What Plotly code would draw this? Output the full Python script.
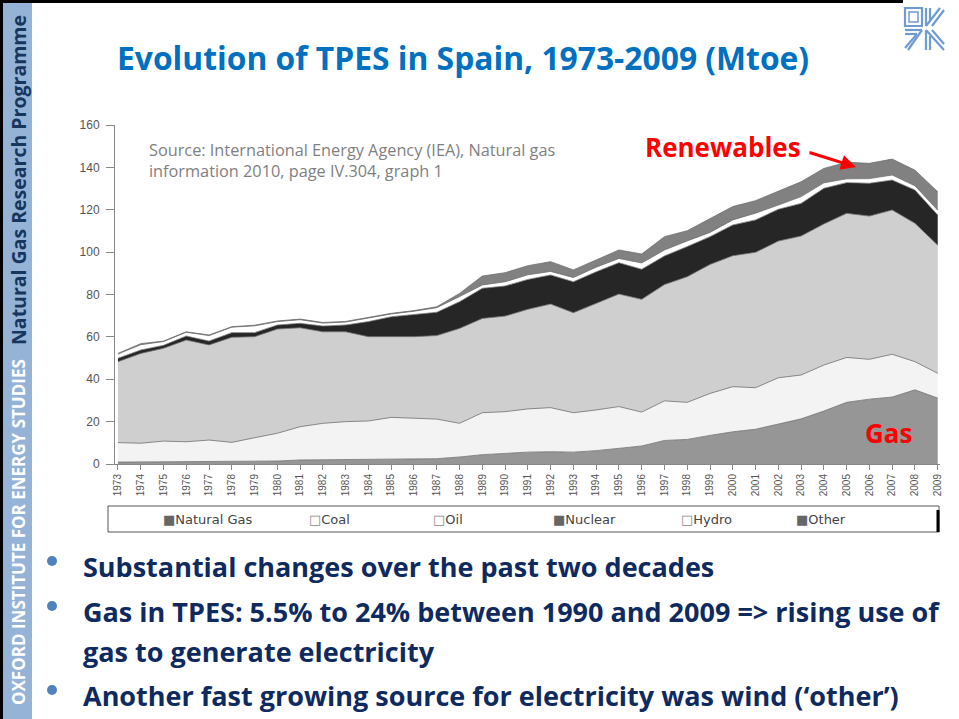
import plotly.graph_objects as go

years = list(range(1973, 2010))
year_labels = [str(y) for y in years]

natural_gas = [0.9, 1.0, 1.0, 1.0, 1.1, 1.1, 1.3, 1.4, 1.9, 2.0, 2.0, 1.9, 2.0, 2.3, 2.5, 3.3, 4.4, 5.0, 5.6, 5.8,
               5.6, 6.3, 7.5, 8.5, 11.1, 11.6, 13.5, 15.2, 16.4, 18.8, 21.3, 25.0, 29.1, 30.6, 31.6, 35.0, 31.1]
coal = [9.2, 8.8, 9.8, 9.5, 10.2, 9.1, 11.1, 13.1, 15.7, 17.2, 18.0, 18.4, 20.0, 19.4, 18.7, 15.9, 19.8, 19.7, 20.4,
        20.8, 18.6, 19.2, 19.6, 16.0, 18.7, 17.5, 19.8, 21.3, 19.6, 21.9, 20.7, 21.7, 21.2, 18.8, 20.2, 13.3, 11.7]
oil = [38.2, 42.4, 43.8, 48.0, 44.9, 49.6, 47.7, 49.2, 46.7, 43.2, 42.4, 39.8, 38.1, 38.4, 39.4, 44.8, 44.5, 45.1,
       47.0, 48.9, 47.2, 50.3, 53.1, 53.2, 54.9, 59.3, 60.9, 61.8, 63.9, 64.5, 65.6, 66.6, 68.0, 67.6, 68.1, 65.3, 60.5]
nuclear = [1.6, 1.6, 1.4, 1.9, 1.8, 2.2, 1.9, 1.9, 2.1, 2.7, 3.2, 7.1, 9.4, 10.5, 11.0, 12.6, 14.2, 14.2, 14.1, 13.7,
           14.6, 14.9, 14.8, 14.2, 13.5, 14.2, 13.1, 14.5, 15.3, 15.0, 15.4, 16.8, 14.5, 15.5, 14.1, 15.7, 14.2]
hydro = [2.0, 2.5, 1.8, 1.8, 2.6, 2.6, 3.2, 1.6, 1.7, 1.4, 1.4, 1.6, 1.3, 1.5, 2.2, 2.4, 1.6, 2.0, 2.2, 1.7,
         2.0, 2.2, 2.0, 3.0, 2.8, 2.7, 2.0, 2.4, 3.2, 2.0, 3.2, 2.6, 1.8, 2.2, 2.4, 2.0, 2.3]
other = [0.3, 0.5, 0.2, 0.2, 0.3, 0.2, 0.3, 0.3, 0.3, 0.3, 0.3, 0.3, 0.3, 0.3, 0.4, 1.5, 4.2, 4.3, 4.3, 4.6,
         3.6, 3.4, 4.0, 4.2, 6.3, 4.8, 6.7, 6.3, 5.9, 6.6, 7.0, 6.8, 7.8, 7.2, 7.5, 7.4, 8.7]

series = [
    ("Natural Gas", natural_gas, "#969696", "■"),
    ("Coal", coal, "#f3f3f3", "□"),
    ("Oil", oil, "#cfcfcf", "□"),
    ("Nuclear", nuclear, "#262626", "■"),
    ("Hydro", hydro, "#ffffff", "□"),
    ("Other", other, "#818181", "■"),
]

W, H = 959, 719
L, R, T, B = 115, 940, 125, 464

def px(x):
    return (x - L) / (R - L)

def py(y):
    return (B - y) / (B - T)

fig = go.Figure()
for name, vals, col, sym in series:
    fig.add_trace(go.Scatter(
        x=years, y=vals, name=name, mode="lines", stackgroup="one",
        line=dict(color="#6e6e6e", width=0.8), fillcolor=col, showlegend=False,
        hoverinfo="x+y+name"))

shapes = []
annotations = []

# sidebar
shapes.append(dict(type="rect", xref="paper", yref="paper", x0=px(0), x1=px(32), y0=py(719), y1=py(0),
                   fillcolor="#95b3d7", line=dict(width=0), layer="below"))
shapes.append(dict(type="rect", xref="paper", yref="paper", x0=px(0), x1=px(3), y0=py(719), y1=py(0),
                   fillcolor="#000000", line=dict(width=0)))
shapes.append(dict(type="rect", xref="paper", yref="paper", x0=px(0), x1=px(903), y0=py(3), y1=py(0),
                   fillcolor="#000000", line=dict(width=0)))
annotations.append(dict(xref="paper", yref="paper", x=px(18), y=py(532), text="OXFORD INSTITUTE FOR ENERGY STUDIES",
                        showarrow=False, textangle=-90, xanchor="center", yanchor="middle",
                        font=dict(family="Open Sans", size=17, color="#ffffff", weight="bold")))
annotations.append(dict(xref="paper", yref="paper", x=px(18), y=py(180), text="Natural Gas Research Programme",
                        showarrow=False, textangle=-90, xanchor="center", yanchor="middle",
                        font=dict(family="Open Sans", size=19.5, color="#17365d", weight="bold")))

# logo (simplified)
logo_col = "#6f9bd3"
def seg(x0, y0, x1, y1, w=2.2):
    shapes.append(dict(type="line", xref="paper", yref="paper", x0=px(x0), y0=py(y0), x1=px(x1), y1=py(y1),
                       line=dict(color=logo_col, width=w)))
shapes.append(dict(type="rect", xref="paper", yref="paper", x0=px(905), x1=px(922), y0=py(26), y1=py(8),
                   line=dict(color=logo_col, width=2.2)))
shapes.append(dict(type="rect", xref="paper", yref="paper", x0=px(909), x1=px(918), y0=py(22), y1=py(12),
                   line=dict(color=logo_col, width=1.5)))
seg(926, 8, 926, 26); seg(930, 8, 930, 20); seg(940, 8, 926, 26); seg(944, 10, 932, 26)
seg(905, 30, 922, 30); seg(905, 34, 917, 34); seg(922, 30, 908, 50); seg(917, 34, 905, 48)
seg(926, 30, 926, 50); seg(930, 36, 930, 50); seg(926, 30, 944, 50); seg(932, 30, 944, 44)

# title
annotations.append(dict(xref="paper", yref="paper", x=px(463), y=py(57), text="Evolution of TPES in Spain, 1973-2009 (Mtoe)",
                        showarrow=False, xanchor="center", yanchor="middle",
                        font=dict(family="Open Sans", size=31.8, color="#0070c0", weight="bold")))

# source note
annotations.append(dict(xref="paper", yref="paper", x=px(147), y=py(160),
                        text="Source: International Energy Agency (IEA), Natural gas<br>information 2010, page IV.304, graph 1",
                        showarrow=False, xanchor="left", yanchor="middle", align="left",
                        font=dict(family="Open Sans", size=16.3, color="#7f7f7f")))

# Renewables + arrow
annotations.append(dict(xref="paper", yref="paper", x=px(643), y=py(147), text="Renewables",
                        showarrow=False, xanchor="left", yanchor="middle",
                        font=dict(family="Open Sans", size=26, color="#ff0000", weight="bold")))
annotations.append(dict(xref="paper", yref="paper", x=px(856), y=py(167), ax=-48, ay=-15,
                        axref="pixel", ayref="pixel", text="", showarrow=True, arrowhead=2, arrowsize=1,
                        arrowwidth=3, arrowcolor="#ff0000"))
annotations.append(dict(xref="paper", yref="paper", x=px(888), y=py(433), text="Gas",
                        showarrow=False, xanchor="center", yanchor="middle",
                        font=dict(family="Open Sans", size=26, color="#ff0000", weight="bold")))

# legend box + entries
shapes.append(dict(type="rect", xref="paper", yref="paper", x0=px(108), x1=px(939), y0=py(532), y1=py(506),
                   line=dict(color="#555555", width=1)))
shapes.append(dict(type="line", xref="paper", yref="paper", x0=px(938), x1=px(938), y0=py(532), y1=py(510),
                   line=dict(color="#000000", width=3)))
leg_x = [161, 307, 431, 551, 679, 794]
for (name, vals, col, sym), lx in zip(series, leg_x):
    annotations.append(dict(xref="paper", yref="paper", x=px(lx), y=py(519),
                            text=f"<span style='color:{'#666' if sym == '■' else '#888'}'>{sym}</span>{name}",
                            showarrow=False, xanchor="left", yanchor="middle",
                            font=dict(family="DejaVu Sans", size=13, color="#444444")))

# bullets
navy = "#0f2a5f"
bul_col = "#4f81bd"
lines = [
    (566, "Substantial changes over the past two decades", True),
    (611, "Gas in TPES: 5.5% to 24% between 1990 and 2009 => rising use of", True),
    (651, "gas to generate electricity", False),
    (695, "Another fast growing source for electricity was wind (‘other’)", True),
]
for yy, txt, has_bullet in lines:
    annotations.append(dict(xref="paper", yref="paper", x=px(81), y=py(yy), text=txt, showarrow=False,
                            xanchor="left", yanchor="middle",
                            font=dict(family="Open Sans", size=27, color=navy, weight="bold")))
    if has_bullet:
        shapes.append(dict(type="circle", xref="paper", yref="paper", x0=px(47), x1=px(57),
                           y0=py(yy - 10), y1=py(yy), fillcolor=bul_col, line=dict(width=0)))

fig.update_layout(
    width=W, height=H,
    margin=dict(l=L, r=W - R, t=T, b=H - B, pad=0),
    paper_bgcolor="white", plot_bgcolor="white",
    showlegend=False,
    shapes=shapes, annotations=annotations,
    xaxis=dict(range=[1972.87, 2009.1], tickmode="array", tickvals=years, ticktext=year_labels,
               tickangle=-90, ticks="outside", ticklen=5, tickcolor="#888", showgrid=False, zeroline=False,
               showline=True, linecolor="#888", linewidth=1, mirror=False,
               tickfont=dict(family="Liberation Sans", size=10, color="#555")),
    yaxis=dict(range=[0, 160], tickvals=[0, 20, 40, 60, 80, 100, 120, 140, 160], ticks="outside", ticklen=8,
               tickcolor="#888", showgrid=False, zeroline=False, showline=True, linecolor="#888", linewidth=1,
               ticklabelstandoff=4,
               tickfont=dict(family="Liberation Sans", size=12, color="#555")),
)

fig.write_html("out.html", config={"displayModeBar": False},
               post_script="document.body.style.margin='0';document.body.style.overflow='hidden';")
